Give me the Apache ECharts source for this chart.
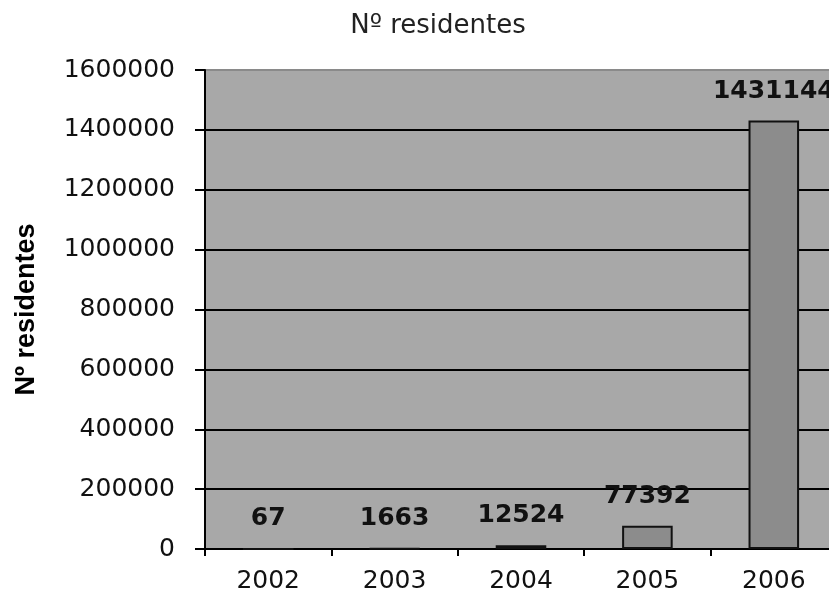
<!DOCTYPE html>
<html>
<head>
<meta charset="utf-8">
<script src="https://cdn.jsdelivr.net/npm/echarts@6/dist/echarts.min.js"></script>
<style>
html,body{margin:0;padding:0;background:#fff;overflow:hidden;}
#chart{width:845px;height:599px;}
</style>
</head>
<body>
<div id="chart"></div>
<script>
const chartTitle = 'Nº residentes';
const yAxisName = 'Nº residentes';
const categories = ['2002', '2003', '2004', '2005', '2006'];
const residentes = [67, 1663, 12524, 77392, 1431144];
const yMin = 0, yMax = 1600000, yInterval = 200000;

const chart = echarts.init(document.getElementById('chart'));
chart.setOption({
  backgroundColor: '#ffffff',
  animation: false,
  title: {
    text: chartTitle,
    left: 433,
    top: 8,
    textAlign: 'center',
    textStyle: { fontFamily: 'DejaVu Sans', fontSize: 26, fontWeight: 'normal', color: '#222' }
  },
  grid: {
    left: 205, top: 70, width: 632, height: 479,
    show: true, backgroundColor: '#a8a8a8', borderWidth: 0
  },
  xAxis: {
    type: 'category',
    data: categories,
    axisLine: { lineStyle: { color: '#000', width: 2 } },
    axisTick: { show: true, length: 7, lineStyle: { color: '#000', width: 2 } },
    axisLabel: { margin: 20, fontFamily: 'DejaVu Sans', fontSize: 25, color: '#111' },
    splitLine: { show: false }
  },
  yAxis: {
    type: 'value',
    min: yMin, max: yMax, interval: yInterval,
    name: yAxisName,
    nameLocation: 'middle',
    nameGap: 165,
    nameRotate: 90,
    nameTextStyle: { fontFamily: 'Liberation Sans', fontSize: 27, fontWeight: 'bold', color: '#000' },
    axisLine: { show: true, lineStyle: { color: '#000', width: 2 } },
    axisTick: { show: true, length: 10, lineStyle: { color: '#000', width: 2 } },
    axisLabel: { margin: 30, fontFamily: 'DejaVu Sans', fontSize: 25, color: '#111',
      formatter: function (v) { return String(v); } },
    splitLine: { show: true, lineStyle: { color: ['#000','#000','#000','#000','#000','#000','#000','#000','#8a8a8a'], width: 2 } }
  },
  series: [{
    type: 'bar',
    data: residentes,
    barWidth: '40%',
    itemStyle: { color: '#8c8c8c', borderColor: '#111', borderWidth: 2 },
    label: {
      show: true, position: 'top', distance: 17,
      fontFamily: 'DejaVu Sans', fontSize: 25, fontWeight: 'bold', color: '#111'
    }
  }]
});
</script>
</body>
</html>
